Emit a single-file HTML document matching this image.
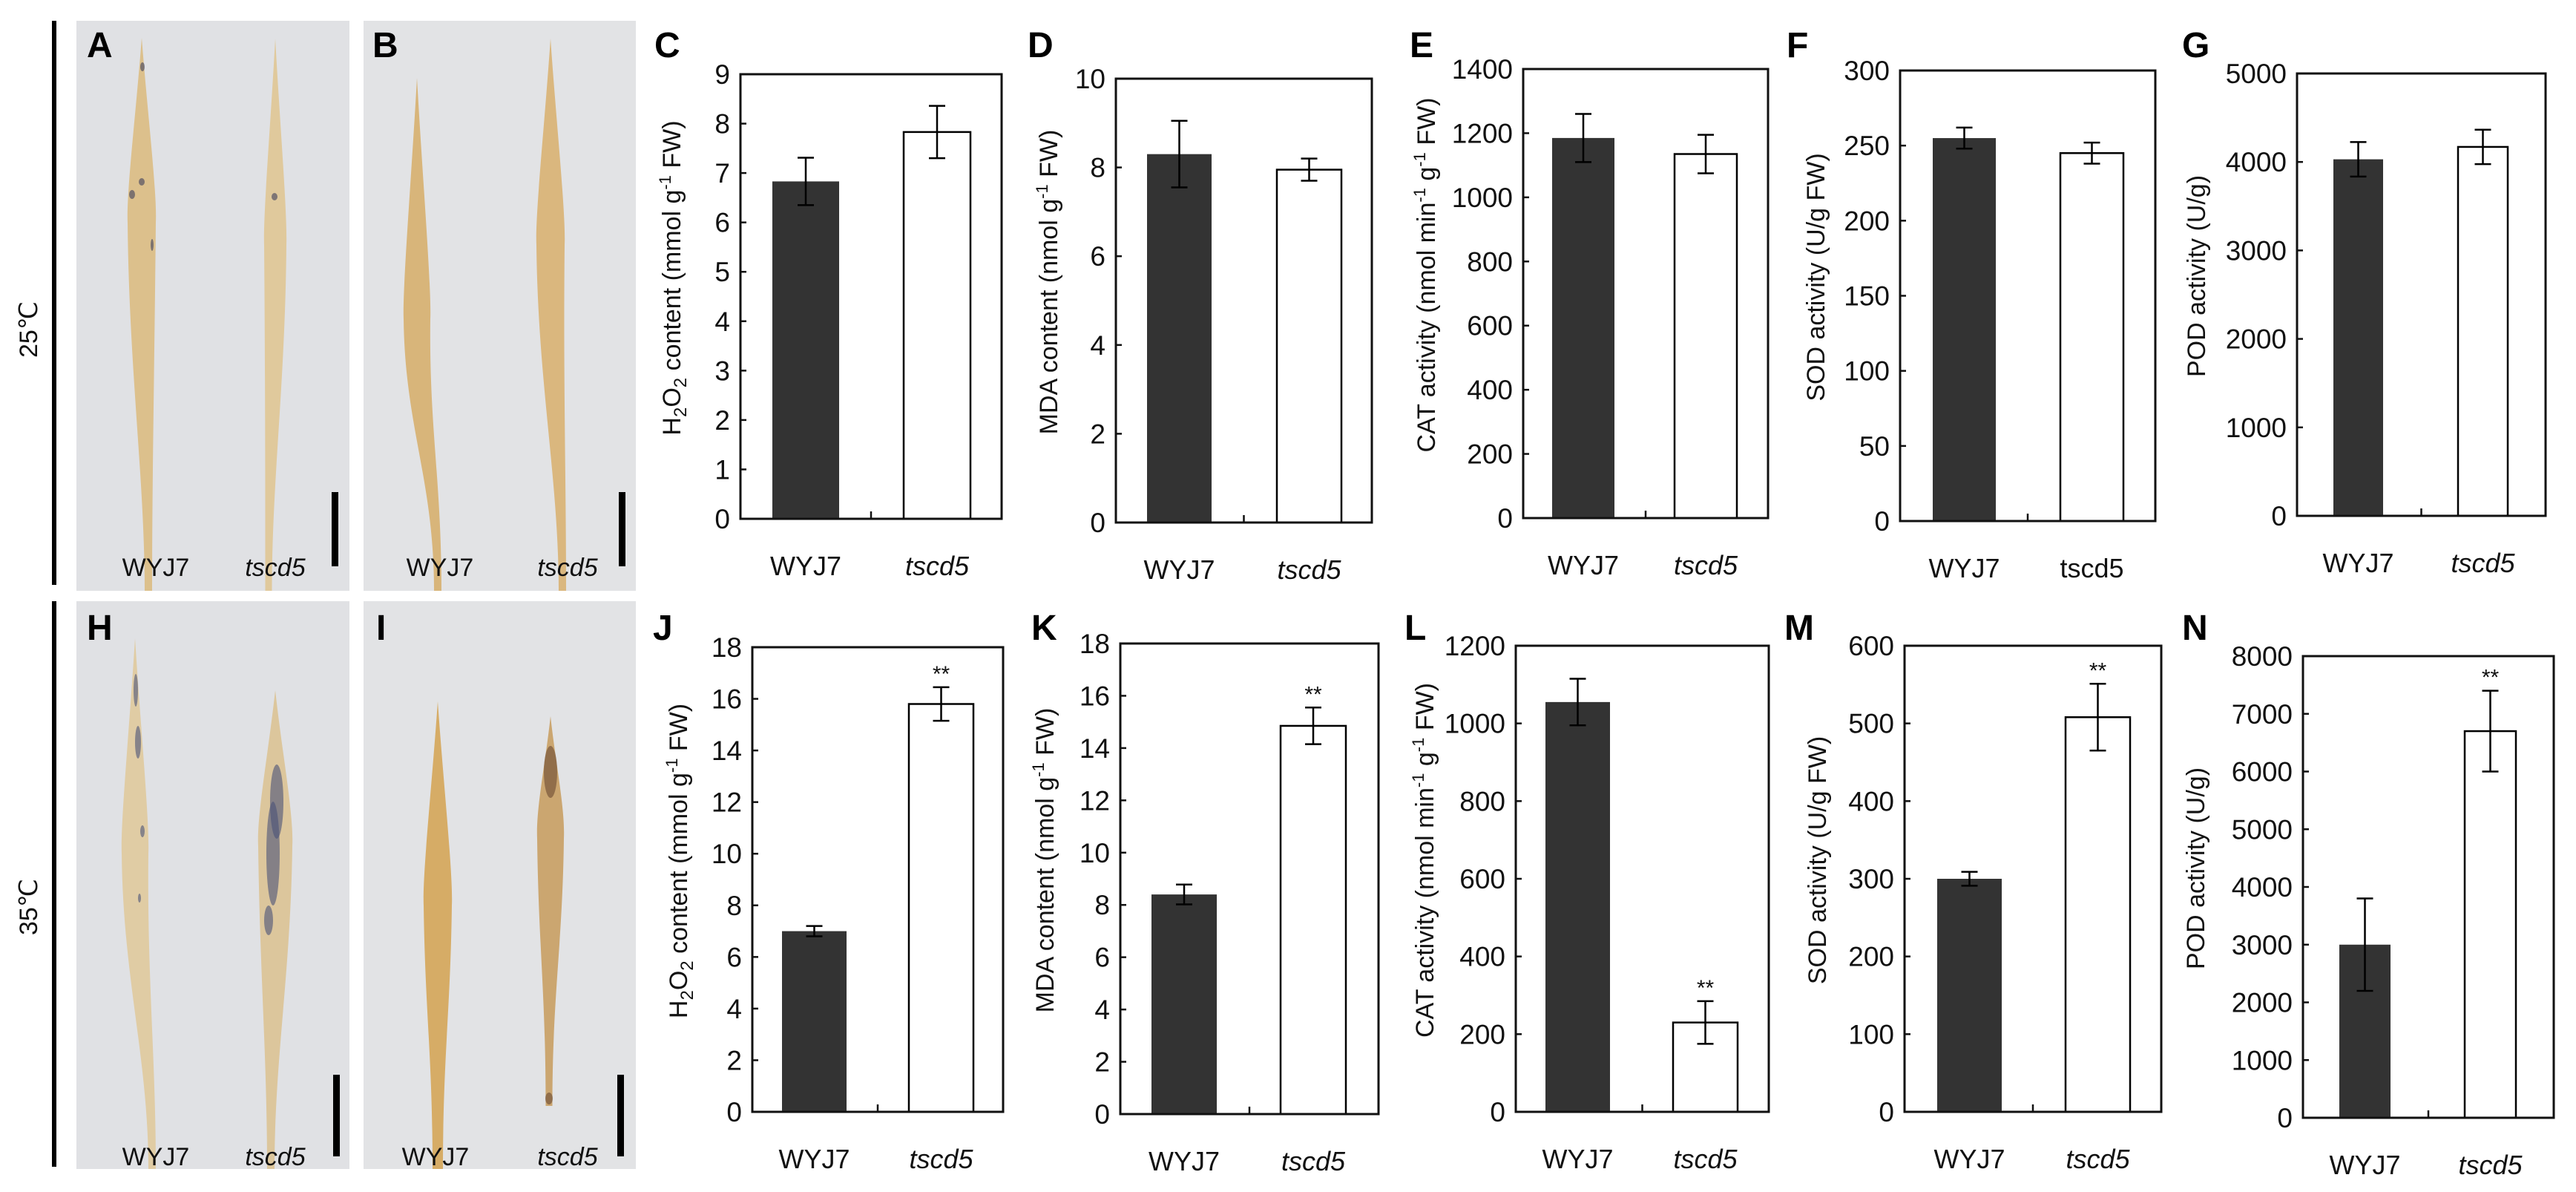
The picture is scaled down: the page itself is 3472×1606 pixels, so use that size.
<!DOCTYPE html>
<html><head><meta charset="utf-8">
<style>
html,body{margin:0;padding:0;background:#fff;}
svg{display:block;font-family:"Liberation Sans",Arial,sans-serif;}
</style></head>
<body>
<svg id="fig" width="3472" height="1606" viewBox="0 0 3472 1606" xmlns="http://www.w3.org/2000/svg">
<g id="photos">
  <line x1="73" y1="28" x2="73" y2="788" stroke="#000" stroke-width="6"/>
  <line x1="73" y1="810" x2="73" y2="1572" stroke="#000" stroke-width="6"/>
  <text transform="translate(50,444) rotate(-90)" text-anchor="middle" font-size="34" fill="#111">25℃</text>
  <text transform="translate(50,1222) rotate(-90)" text-anchor="middle" font-size="34" fill="#111">35℃</text>
  <rect x="103" y="28" width="368" height="768" fill="#e0e1e4"/>
  <rect x="490" y="28" width="367" height="768" fill="#e2e3e5"/>
  <rect x="103" y="810" width="368" height="765" fill="#e0e1e4"/>
  <rect x="490" y="810" width="367" height="765" fill="#e2e3e5"/>
  <g id="leaves"></g>
  <rect x="447" y="663" width="9" height="100" fill="#000"/>
  <rect x="834" y="663" width="9" height="100" fill="#000"/>
  <rect x="449" y="1448" width="9" height="110" fill="#000"/>
  <rect x="832" y="1448" width="9" height="110" fill="#000"/>
  <g font-size="34" fill="#111" text-anchor="middle">
    <text x="210" y="776">WYJ7</text>
    <text x="371" y="776" font-style="italic">tscd5</text>
    <text x="593" y="776">WYJ7</text>
    <text x="765" y="776" font-style="italic">tscd5</text>
    <text x="210" y="1570">WYJ7</text>
    <text x="371" y="1570" font-style="italic">tscd5</text>
    <text x="587" y="1570">WYJ7</text>
    <text x="765" y="1570" font-style="italic">tscd5</text>
  </g>
  <g font-size="48" font-weight="bold" fill="#000">
    <text x="117" y="77">A</text>
    <text x="502" y="77">B</text>
    <text x="117" y="862">H</text>
    <text x="507" y="862">I</text>
  </g>
</g>
<g id="charts"></g>
</svg>
<script>
const NS = "http://www.w3.org/2000/svg";
// ---- chart data ----
const categories = ["WYJ7", "tscd5"];
const meanC = [6.83, 7.83];  const errC = [0.48, 0.53];
const meanD = [8.3, 7.95];   const errD = [0.75, 0.25];
const meanE = [1185, 1135];  const errE = [75, 60];
const meanF = [255, 245];    const errF = [7, 7];
const meanG = [4030, 4170];  const errG = [195, 195];
const meanJ = [7.0, 15.8];   const errJ = [0.2, 0.65];
const meanK = [8.4, 14.85];  const errK = [0.38, 0.7];
const meanL = [1055, 230];   const errL = [60, 55];
const meanM = [300, 508];    const errM = [9, 43];
const meanN = [3000, 6700];  const errN = [800, 700];
const sigJ = ["", "**"]; const sigK = ["", "**"]; const sigL = ["", "**"]; const sigM = ["", "**"]; const sigN = ["", "**"];
const sigNone = ["", ""];
const ticksC = [0,1,2,3,4,5,6,7,8,9];
const ticksD = [0,2,4,6,8,10];
const ticksE = [0,200,400,600,800,1000,1200,1400];
const ticksF = [0,50,100,150,200,250,300];
const ticksG = [0,1000,2000,3000,4000,5000];
const ticksJ = [0,2,4,6,8,10,12,14,16,18];
const ticksK = [0,2,4,6,8,10,12,14,16,18];
const ticksL = [0,200,400,600,800,1000,1200];
const ticksM = [0,100,200,300,400,500,600];
const ticksN = [0,1000,2000,3000,4000,5000,6000,7000,8000];

function mk(tag, attrs, parent){
  const e = document.createElementNS(NS, tag);
  for (const k in attrs) e.setAttribute(k, attrs[k]);
  parent.appendChild(e);
  return e;
}

// leaves
const leavesG = document.getElementById('leaves');
function leaf(name, tipX, tipY, wY, w, baseX, baseY, bw, col, spots, spotCol){
  const p = `M${tipX},${tipY} C${tipX+w*0.2},${tipY+(wY-tipY)*0.4} ${tipX+w*0.55},${wY-40} ${tipX+w*0.5},${wY} C${tipX+w*0.45},${wY+(baseY-wY)*0.4} ${baseX+bw/2},${baseY-150} ${baseX+bw/2},${baseY} L${baseX-bw/2},${baseY} C${baseX-bw/2},${baseY-150} ${tipX-w*0.45},${wY+(baseY-wY)*0.4} ${tipX-w*0.5},${wY} C${tipX-w*0.55},${wY-40} ${tipX-w*0.2},${tipY+(wY-tipY)*0.4} ${tipX},${tipY} Z`;
  const e = mk('path', {d:p, fill:col}, leavesG);
  
  
  spots.forEach(s=>{
    const c = mk('ellipse', {cx:s[0], cy:s[1], rx:s[2], ry:s[3], fill:spotCol, opacity:0.6}, leavesG);
    
    
  });
}
leaf('leaf-a-wyj7',191,51,300,38,200,796,10,'#dcc08c',[[192,90,3,6],[178,262,4,6],[191,245,4,5],[205,330,2,8]],'#3c3e5c');
leaf('leaf-a-tscd5',371,52,330,30,362,796,9,'#e0c99c',[[370,265,4,5]],'#3c3e5c');
leaf('leaf-b-wyj7',562,105,430,36,590,796,10,'#d8b57a',[],'#000');
leaf('leaf-b-tscd5',742,52,330,38,758,796,10,'#dab77e',[],'#000');
leaf('leaf-h-wyj7',182,860,1150,36,205,1575,10,'#e0cca4',[[183,930,3,22],[186,1000,4,22],[192,1120,3,8],[188,1210,2,6]],'#4a5278');
leaf('leaf-h-tscd5',371,930,1140,46,365,1575,10,'#dcc69c',[[373,1080,9,50],[368,1150,9,70],[362,1240,6,20]],'#4a5278');
leaf('leaf-i-wyj7',590,945,1220,38,590,1575,14,'#d6ac66',[],'#000');
leaf('leaf-i-tscd5',742,965,1130,36,740,1490,9,'#cba670',[[742,1040,9,35],[740,1480,5,8]],'#6b4a30');

const chartsG = document.getElementById('charts');
function chart(id, letter, lx, ly, L, R, T, B, ticks, means, errs, sig, darkX, whiteX, bw, titleNodes, titleX){
  const g = mk('g', {}, chartsG);
  
  
  const ymin = ticks[0], ymax = ticks[ticks.length-1];
  const y = v => B - (v - ymin) / (ymax - ymin) * (B - T);
  const lab = mk('text', {x:lx, y:ly, 'font-size':48, 'font-weight':'bold'}, g);
  lab.textContent = letter;
  
  
  const xs = [darkX, whiteX];
  means.forEach((m, i) => {
    const r = mk('rect', {x:xs[i], y:y(m), width:bw, height:B - y(m), fill: i===0 ? '#333' : '#fff', stroke:'#000', 'stroke-width': i===0 ? 0 : 2.5}, g);
    
    
    const cx = xs[i] + bw/2;
    const eg = mk('path', {d:`M${cx},${y(m-errs[i])} V${y(m+errs[i])} M${cx-11},${y(m-errs[i])} H${cx+11} M${cx-11},${y(m+errs[i])} H${cx+11}`, stroke:'#000', 'stroke-width':2.5, fill:'none'}, g);
    
    
    if (sig[i]) {
      const st = mk('text', {x:cx, y:y(m+errs[i]) - 8, 'font-size':30, 'text-anchor':'middle', fill:'#111'}, g);
      st.textContent = sig[i];
      
      
    }
    const cl = mk('text', {x:cx, y: B + 76, 'font-size':36, 'text-anchor':'middle', fill:'#111', 'font-style': i===1 && id!=='f' ? 'italic' : 'normal'}, g);
    cl.textContent = categories[i];
    
    
  });
  const fr = mk('rect', {x:L, y:T, width:R-L, height:B-T, fill:'none', stroke:'#111', 'stroke-width':3}, g);
  
  
  const mt = mk('line', {x1:(L+R)/2, x2:(L+R)/2, y1:B, y2:B-10, stroke:'#111', 'stroke-width':2.5}, g);
  
  
  ticks.forEach(t => {
    const tk = mk('line', {x1:L, x2:L+8, y1:y(t), y2:y(t), stroke:'#111', 'stroke-width':2.5}, g);
    
    
    const tl = mk('text', {x:L-14, y:y(t)+13, 'font-size':37, 'text-anchor':'end', fill:'#111'}, g);
    tl.textContent = t;
    
    
  });
  const tt = mk('text', {transform:`translate(${titleX},${(T+B)/2 - 25}) rotate(-90)`, 'font-size':34, 'text-anchor':'middle', fill:'#111'}, g);
  
  
  titleNodes.forEach(n => {
    const s = mk('tspan', {}, tt);
    if (n[1] === 'sub') { s.setAttribute('font-size', 24); s.setAttribute('dy', 8); }
    if (n[1] === 'sup') { s.setAttribute('font-size', 22); s.setAttribute('dy', -13); }
    if (n[1] === 'back') { s.setAttribute('dy', n[2]); }
    s.textContent = n[0];
  });
}
const h2o2Title = [["H"],["2","sub"],["O","back",-8],["2","sub"],[" content (mmol g","back",-8],["-1","sup"],[" FW)","back",13]];
const mdaTitle = [["MDA content (nmol g"],["-1","sup"],[" FW)","back",13]];
const catTitle = [["CAT activity (nmol min"],["-1","sup"],[" g","back",13],["-1","sup"],[" FW)","back",13]];
const sodTitle = [["SOD activity (U/g FW)"]];
const podTitle = [["POD activity (U/g)"]];

chart('c','C',882,77, 998,1350,100,699, ticksC, meanC, errC, sigNone, 1041,1218,90, h2o2Title, 917);
chart('d','D',1385,77, 1504,1849,106,704, ticksD, meanD, errD, sigNone, 1546,1721,87, mdaTitle, 1425);
chart('e','E',1900,77, 2053,2383,93,698, ticksE, meanE, errE, sigNone, 2092,2257,84, catTitle, 1934);
chart('f','F',2408,77, 2561,2905,95,702, ticksF, meanF, errF, sigNone, 2605,2777,85, sodTitle, 2459);
chart('g','G',2941,77, 3096,3431,99,695, ticksG, meanG, errG, sigNone, 3145,3313,67, podTitle, 2972);
chart('j','J',880,862, 1014,1352,872,1498, ticksJ, meanJ, errJ, sigJ, 1054,1225,87, h2o2Title, 926);
chart('k','K',1390,862, 1510,1858,867,1501, ticksK, meanK, errK, sigK, 1552,1726,88, mdaTitle, 1420);
chart('l','L',1893,862, 2043,2384,870,1498, ticksL, meanL, errL, sigL, 2083,2255,87, catTitle, 1932);
chart('m','M',2405,862, 2567,2913,870,1498, ticksM, meanM, errM, sigM, 2611,2784,87, sodTitle, 2461);
chart('n','N',2941,862, 3104,3442,884,1506, ticksN, meanN, errN, sigN, 3153,3322,69, podTitle, 2971);
</script>
</body></html>
